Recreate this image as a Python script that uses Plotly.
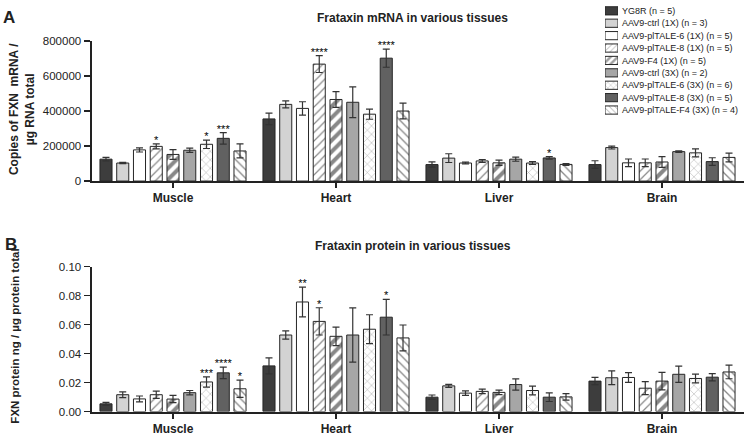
import plotly.graph_objects as go

# ---------------- data ----------------
tissues = ["Muscle", "Heart", "Liver", "Brain"]
series = [
    "YG8R (n = 5)",
    "AAV9-ctrl (1X) (n = 3)",
    "AAV9-plTALE-6 (1X) (n = 5)",
    "AAV9-plTALE-8 (1X) (n = 5)",
    "AAV9-F4 (1X) (n = 5)",
    "AAV9-ctrl (3X) (n = 2)",
    "AAV9-plTALE-6 (3X) (n = 6)",
    "AAV9-plTALE-8 (3X) (n = 5)",
    "AAV9-plTALE-F4 (3X) (n = 4)",
]

# Panel A: copies of FXN mRNA / ug RNA total (values per series, in series order)
mrna_muscle = [125000, 103000, 178000, 198000, 152000, 176000, 210000, 244000, 172000]
mrna_muscle_err = [10000, 4000, 12000, 14000, 28000, 12000, 24000, 33000, 40000]
mrna_heart = [355000, 438000, 415000, 668000, 466000, 450000, 382000, 702000, 400000]
mrna_heart_err = [33000, 20000, 38000, 48000, 45000, 88000, 29000, 52000, 45000]
mrna_liver = [94000, 131000, 103000, 115000, 104000, 125000, 103000, 132000, 95000]
mrna_liver_err = [15000, 25000, 5000, 8000, 15000, 12000, 8000, 7000, 5000]
mrna_brain = [94000, 191000, 104000, 104000, 109000, 168000, 161000, 111000, 135000]
mrna_brain_err = [22000, 8000, 22000, 22000, 31000, 4000, 23000, 22000, 25000]

mrna_stars_muscle = ["", "", "", "*", "", "", "*", "***", ""]
mrna_stars_heart = ["", "", "", "****", "", "", "", "****", ""]
mrna_stars_liver = ["", "", "", "", "", "", "", "*", ""]
mrna_stars_brain = ["", "", "", "", "", "", "", "", ""]

# Panel B: FXN protein ng / ug protein total
prot_muscle = [0.0053, 0.0116, 0.0087, 0.0116, 0.0086, 0.0130, 0.0204, 0.0267, 0.0157]
prot_muscle_err = [0.0010, 0.0020, 0.0020, 0.0025, 0.0025, 0.0015, 0.0035, 0.0040, 0.0060]
prot_heart = [0.0315, 0.0528, 0.0756, 0.0622, 0.0519, 0.0528, 0.0568, 0.0651, 0.0508]
prot_heart_err = [0.0055, 0.0028, 0.0103, 0.0094, 0.0064, 0.0187, 0.0100, 0.0123, 0.0089]
prot_liver = [0.0099, 0.0177, 0.0127, 0.0139, 0.0132, 0.0186, 0.0145, 0.0099, 0.0101]
prot_liver_err = [0.0015, 0.0010, 0.0015, 0.0015, 0.0015, 0.0039, 0.0030, 0.0030, 0.0022]
prot_brain = [0.0210, 0.0233, 0.0235, 0.0161, 0.0210, 0.0257, 0.0228, 0.0237, 0.0273]
prot_brain_err = [0.0025, 0.0047, 0.0034, 0.0045, 0.0060, 0.0056, 0.0030, 0.0025, 0.0047]

prot_stars_muscle = ["", "", "", "", "", "", "***", "****", "*"]
prot_stars_heart = ["", "", "**", "*", "", "", "", "*", ""]
prot_stars_liver = ["", "", "", "", "", "", "", "", ""]
prot_stars_brain = ["", "", "", "", "", "", "", "", ""]

mrna_ticks = [0, 200000, 400000, 600000, 800000]
prot_ticks = [0.00, 0.02, 0.04, 0.06, 0.08, 0.10]

# ---------------- styles ----------------
fill = ["#3d3d3d", "#d3d3d3", "#ffffff", "#ffffff", "#ffffff", "#a6a6a6", "#ffffff", "#616161", "#ffffff"]
pshape = ["", "", "", "/", "/", "", "x", "", "\\"]
psize = [6, 6, 6, 6, 8, 6, 6, 6, 6]
psolid = [0.3, 0.3, 0.3, 0.2, 0.5, 0.3, 0.16, 0.3, 0.22]
pfg = ["#111", "#111", "#111", "#111", "#111", "#111", "#555", "#111", "#111"]
EDGE = "#262626"
FONT = "Arial, Liberation Sans, sans-serif"
W, H = 744, 436
STAR_PAD_A = 16000   # small lift of the significance marks above the error caps
STAR_PAD_B = 0.0020

fig = go.Figure()

panels = [
    ("x", "y", STAR_PAD_A, [mrna_muscle, mrna_heart, mrna_liver, mrna_brain],
     [mrna_muscle_err, mrna_heart_err, mrna_liver_err, mrna_brain_err],
     [mrna_stars_muscle, mrna_stars_heart, mrna_stars_liver, mrna_stars_brain]),
    ("x2", "y2", STAR_PAD_B, [prot_muscle, prot_heart, prot_liver, prot_brain],
     [prot_muscle_err, prot_heart_err, prot_liver_err, prot_brain_err],
     [prot_stars_muscle, prot_stars_heart, prot_stars_liver, prot_stars_brain]),
]

for xa, ya, pad, vals, errs, stars in panels:
    for i, name in enumerate(series):
        y = [v[i] for v in vals]
        e = [v[i] for v in errs]
        fig.add_trace(go.Bar(
            x=tissues, y=y, name=name, xaxis=xa, yaxis=ya,
            offsetgroup=str(i), showlegend=False,
            marker=dict(color=fill[i], line=dict(color=EDGE, width=1),
                        pattern=dict(shape=pshape[i], fgcolor=pfg[i], bgcolor=fill[i],
                                     size=psize[i], solidity=psolid[i])),
            error_y=dict(type="data", array=e, symmetric=True, color="#333333",
                         thickness=1.2, width=3.5),
        ))
    for i, name in enumerate(series):
        ytop = [v[i] + er[i] + pad for v, er in zip(vals, errs)]
        fig.add_trace(go.Scatter(
            x=tissues, y=ytop, text=[s[i] for s in stars], mode="text",
            textposition="middle center", xaxis=xa, yaxis=ya,
            offsetgroup=str(i), showlegend=False, cliponaxis=False, hoverinfo="skip",
            marker=dict(color="#000000"),
            textfont=dict(size=11, color="#000000", family=FONT),
        ))

# legend drawn as a small swatch chart (keeps compact spacing of the original)
fig.add_trace(go.Bar(
    x=[1] * len(series), y=series, orientation="h", width=0.66,
    xaxis="x3", yaxis="y3", showlegend=False, hoverinfo="skip",
    marker=dict(color=fill, line=dict(color=EDGE, width=1),
                pattern=dict(shape=pshape, fgcolor=pfg, bgcolor=fill,
                             size=[4, 4, 4, 4, 5, 4, 4, 4, 4], solidity=psolid)),
))

x0, x1 = 91.5 / W, 743.5 / W
axis_common = dict(showline=True, linecolor="#222", linewidth=2, showgrid=False,
                   zeroline=False, ticks="outside", tickcolor="#222", fixedrange=True)

fig.update_layout(
    width=W, height=H, margin=dict(l=0, r=0, t=0, b=0),
    paper_bgcolor="white", plot_bgcolor="white",
    font=dict(family=FONT, color="#222"),
    barmode="group", bargap=0.075, bargroupgap=0.28,
    scattermode="group", scattergap=0.075,
    showlegend=False,
    xaxis=dict(domain=[x0, x1], anchor="y", type="category", categoryorder="array",
               categoryarray=tissues, ticklen=5, tickwidth=2,
               tickfont=dict(size=12, weight="bold", color="#222"), **axis_common),
    yaxis=dict(domain=[(H - 180) / H, (H - 36) / H], anchor="x", range=[0, 800000],
               tickvals=mrna_ticks, tickformat="d", ticklen=6, tickwidth=1.5,
               tickfont=dict(size=11.5, color="#222"), **axis_common),
    xaxis2=dict(domain=[x0, x1], anchor="y2", type="category", categoryorder="array",
                categoryarray=tissues, ticklen=5, tickwidth=2,
                tickfont=dict(size=12, weight="bold", color="#222"), **axis_common),
    yaxis2=dict(domain=[(H - 417) / H, (H - 268) / H], anchor="x2", range=[0, 0.1],
                tickvals=prot_ticks, tickformat=".2f", ticklen=6, tickwidth=1.5,
                tickfont=dict(size=11.5, color="#222"), **axis_common),
    xaxis3=dict(domain=[605 / W, 618 / W], anchor="y3", range=[0, 1], visible=False,
                fixedrange=True),
    yaxis3=dict(domain=[(H - 114) / H, 1.0], anchor="x3", type="category",
                categoryorder="array", categoryarray=series, range=[8.55, -0.39],
                side="right", showline=False, showgrid=False, zeroline=False, ticks="",
                ticklabelstandoff=3, tickfont=dict(size=9, color="#222"), fixedrange=True),
)

ann = [
    dict(text="<b>A</b>", x=9 / W, y=(H - 12) / H, font=dict(size=17)),
    dict(text="<b>B</b>", x=11 / W, y=(H - 245) / H, font=dict(size=17)),
    dict(text="<b>Frataxin mRNA in various tissues</b>", x=413 / W, y=(H - 12) / H,
         font=dict(size=12)),
    dict(text="<b>Frataxin protein in various tissues</b>", x=413 / W, y=(H - 247) / H,
         font=dict(size=12)),
    dict(text="<b>Copies of FXN  mRNA /<br>µg RNA total</b>", x=22 / W, y=(H - 106) / H,
         textangle=-90, font=dict(size=12)),
    dict(text="<b>FXN protein ng / µg protein total</b>", x=15 / W, y=(H - 340) / H,
         textangle=-90, font=dict(size=11.5)),
]
for a in ann:
    a.update(xref="paper", yref="paper", showarrow=False, xanchor="center", yanchor="middle")
    a["font"] = dict(family=FONT, color="#222", **a["font"])
fig.update_layout(annotations=ann)

fig.write_html(
    "out.html",
    config={"displayModeBar": False, "staticPlot": True},
    post_script="document.body.style.margin='0';document.body.style.overflow='hidden';",
)
